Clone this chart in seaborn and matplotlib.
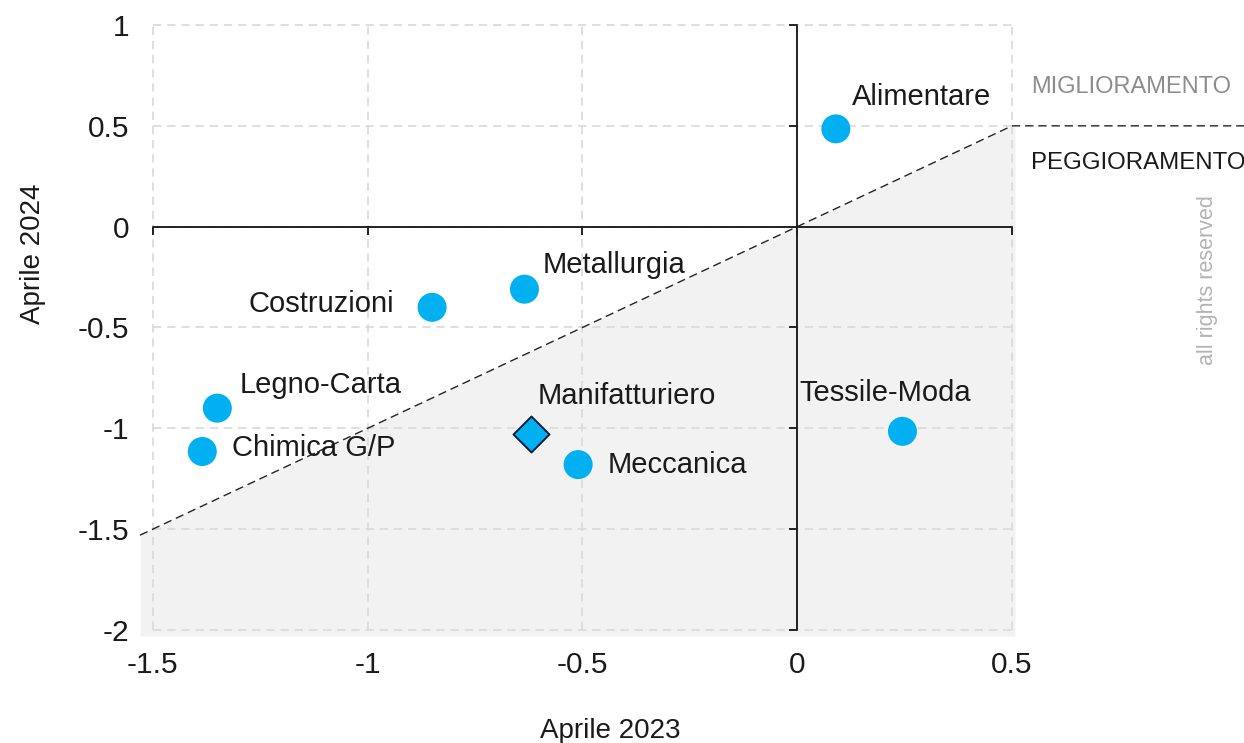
import matplotlib
matplotlib.use("Agg")
import matplotlib.pyplot as plt
import numpy as np
import pandas as pd
import seaborn as sns

# dati
settori = ["Alimentare", "Metallurgia", "Costruzioni", "Legno-Carta",
           "Chimica G/P", "Meccanica", "Tessile-Moda"]
aprile_2023 = [0.09, -0.635, -0.85, -1.35, -1.385, -0.51, 0.245]
aprile_2024 = [0.485, -0.31, -0.40, -0.90, -1.115, -1.18, -1.015]

totale_nome = ["Manifatturiero"]
totale_2023 = [-0.62]
totale_2024 = [-1.03]

x_ticks = [-1.5, -1.0, -0.5, 0.0, 0.5]
y_ticks = [-2.0, -1.5, -1.0, -0.5, 0.0, 0.5, 1.0]
x_tick_labels = ["-1.5", "-1", "-0.5", "0", "0.5"]
y_tick_labels = ["-2", "-1.5", "-1", "-0.5", "0", "0.5", "1"]

# posizione etichette (pixel rispetto al punto) e allineamento
label_offsets = {
    "Alimentare": (16, 32, "left"),
    "Metallurgia": (18, 24, "left"),
    "Costruzioni": (-38, 3, "right"),
    "Legno-Carta": (22, 23, "left"),
    "Chimica G/P": (30, 3, "left"),
    "Meccanica": (29, 0, "left"),
    "Tessile-Moda": (-17, 38, "center"),
    "Manifatturiero": (7, 38, "left"),
}

df = pd.DataFrame({"settore": settori, "x": aprile_2023, "y": aprile_2024})
df_tot = pd.DataFrame({"settore": totale_nome, "x": totale_2023, "y": totale_2024})

sns.set_theme(style="white")
plt.rcParams["font.family"] = ["Liberation Sans", "DejaVu Sans"]

TXT = "#1a1a1a"
BLU = "#00b0f0"

fig = plt.figure(figsize=(12.44, 7.43), dpi=100)
ax = fig.add_axes([140 / 1244, 1 - 636 / 743, 875 / 1244, 613 / 743])

xmin, xmax = -1.53, 0.507
ymin, ymax = -2.03, 1.01
ax.set_xlim(xmin, xmax)
ax.set_ylim(ymin, ymax)

# area di peggioramento (sotto la bisettrice)
xs = np.array([xmin, 0.5, xmax])
ax.fill_between(xs, ymin, xs, color="#f2f2f2", lw=0, zorder=0)

# griglia tratteggiata limitata ai tick
ax.hlines(y_ticks, x_ticks[0], x_ticks[-1], colors="#d9d9d9",
          linestyles=(0, (5, 3.5)), lw=1.2, zorder=1)
ax.vlines(x_ticks, y_ticks[0], y_ticks[-1], colors="#d9d9d9",
          linestyles=(0, (5, 3.5)), lw=1.2, zorder=1)

# assi passanti per lo zero
ax.plot([0, 0], [y_ticks[0], y_ticks[-1]], color="#222222", lw=1.4, zorder=2)
ax.plot([x_ticks[0], x_ticks[-1]], [0, 0], color="#222222", lw=1.4, zorder=2)
ax.plot(np.zeros(len(y_ticks)), y_ticks, ls="none", marker=0, ms=6,
        mew=1.4, color="#222222", zorder=2)
ax.plot(x_ticks, np.zeros(len(x_ticks)), ls="none", marker=3, ms=6,
        mew=1.4, color="#222222", zorder=2)

# bisettrice e prolungamento a destra
ax.plot([xmin, 0.5, 1.2], [xmin, 0.5, 0.5], color="#222222", lw=1.0,
        ls=(0, (6, 3.5)), clip_on=False, zorder=3)

sns.scatterplot(data=df, x="x", y="y", ax=ax, s=436, color=BLU,
                edgecolor="none", linewidth=0, zorder=4, legend=False)
sns.scatterplot(data=df_tot, x="x", y="y", ax=ax, s=335, marker="D",
                color=BLU, edgecolor="#0d1b3e", linewidth=1.4, zorder=4,
                legend=False)

for nome, x, y in list(zip(settori, aprile_2023, aprile_2024)) + \
        list(zip(totale_nome, totale_2023, totale_2024)):
    dx, dy, ha = label_offsets[nome]
    ax.annotate(nome, (x, y), xytext=(dx, dy), textcoords="offset pixels",
                ha=ha, va="center", fontsize=21, color=TXT, zorder=5)

for s in ax.spines.values():
    s.set_visible(False)
ax.set_xticks(x_ticks, x_tick_labels)
ax.set_yticks(y_ticks, y_tick_labels)
ax.tick_params(axis="both", length=0, labelsize=21.5, labelcolor=TXT)
ax.tick_params(axis="x", pad=11)
ax.tick_params(axis="y", pad=8)
ax.set_xlabel("")
ax.set_ylabel("")
ax.grid(False)

fig.text(610 / 1244, 1 - 731 / 743, "Aprile 2023", ha="center", va="center",
         fontsize=20, color=TXT)
fig.text(33 / 1244, 1 - 254 / 743, "Aprile 2024", ha="center", va="center",
         rotation=90, fontsize=20, color=TXT)
fig.text(1031 / 1244, 1 - 87 / 743, "MIGLIORAMENTO", ha="left", va="center",
         fontsize=17, color="#8c8c8c")
fig.text(1031 / 1244, 1 - 163 / 743, "PEGGIORAMENTO", ha="left", va="center",
         fontsize=17.3, color=TXT)
fig.text(1208 / 1244, 1 - 280 / 743, "all rights reserved", ha="center",
         va="center", rotation=90, fontsize=15.5, color="#b3b3b3")

fig.savefig("out.png", dpi=100)
